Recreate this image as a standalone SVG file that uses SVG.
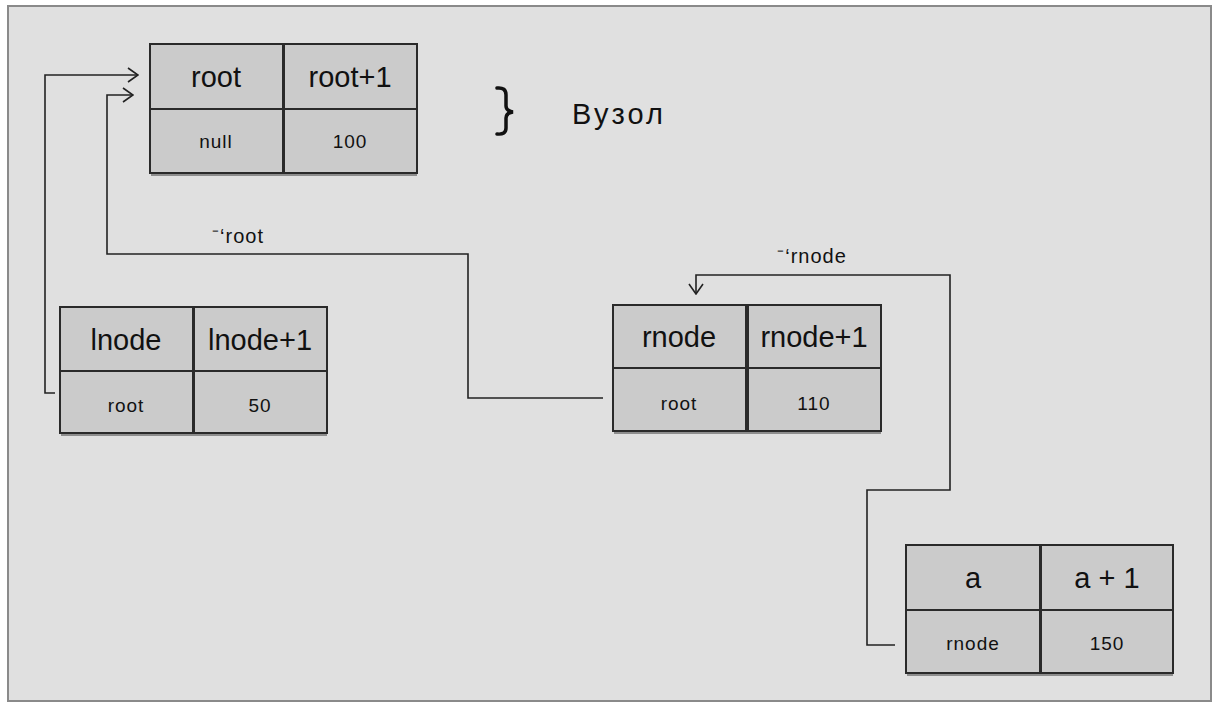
<svg xmlns="http://www.w3.org/2000/svg" width="1214" height="704" viewBox="0 0 1214 704">
<defs>
<marker id="arr" viewBox="0 0 12 16" refX="11" refY="8" markerWidth="12" markerHeight="16" markerUnits="userSpaceOnUse" orient="auto">
<path d="M1,1 L11,8 L1,15" fill="none" stroke="#222" stroke-width="1.6"/>
</marker>
</defs>
<style>
.cell{fill:#cbcbcb;stroke:#2a2a2a;stroke-width:2}
.shadow{fill:none;stroke:#555;stroke-width:2;opacity:0.6}
.hd{font-family:"Liberation Sans",sans-serif;font-size:29px;fill:#111;text-anchor:middle}
.val{font-family:"Liberation Sans",sans-serif;font-size:19px;fill:#111;text-anchor:middle;letter-spacing:1px}
.lbl{font-family:"Liberation Sans",sans-serif;font-size:20px;fill:#111;text-anchor:middle;letter-spacing:1px}
.conn{fill:none;stroke:#222;stroke-width:1.6}
</style>
<rect x="8" y="6" width="1203" height="695" fill="#e0e0e0" stroke="#8a8a8a" stroke-width="2"/>

<g id="connectors">
<path class="conn" d="M55,393 H45 V75 H138" marker-end="url(#arr)"/>
<path class="conn" d="M603,398 H468 V254 H107 V95 H133" marker-end="url(#arr)"/>
<path class="conn" d="M895,645 H867 V490 H950 V275 H696 V294" marker-end="url(#arr)"/>
<text class="lbl" x="238" y="243">⁻‘root</text>
<text class="lbl" x="812" y="263">⁻‘rnode</text>
</g>

<g id="node-root">
<rect class="cell" x="150" y="44" width="133" height="65"/>
<rect class="cell" x="150" y="109" width="133" height="64"/>
<rect class="cell" x="284" y="44" width="133" height="65"/>
<rect class="cell" x="284" y="109" width="133" height="64"/>
<path class="shadow" d="M151,175 H417"/>
<text class="hd" x="216" y="87">root</text>
<text class="hd" x="350" y="87">root+1</text>
<text class="val" x="216" y="148">null</text>
<text class="val" x="350" y="148">100</text>
</g>

<g id="label-vuzol">
<path d="M497,88 Q506,87 506,95 V106 Q506,111 513,112 Q506,113 506,118 V128 Q506,135 497,134" fill="none" stroke="#111" stroke-width="3.5" stroke-linecap="round"/>
<text x="572" y="124" font-family="Liberation Sans, sans-serif" font-size="29" letter-spacing="3" fill="#111">Вузол</text>
</g>

<g id="node-lnode">
<rect class="cell" x="60" y="307" width="133" height="64"/>
<rect class="cell" x="60" y="371" width="133" height="62"/>
<rect class="cell" x="194" y="307" width="133" height="64"/>
<rect class="cell" x="194" y="371" width="133" height="62"/>
<path class="shadow" d="M61,435 H327"/>
<text class="hd" x="126" y="350">lnode</text>
<text class="hd" x="260" y="350">lnode+1</text>
<text class="val" x="126" y="412">root</text>
<text class="val" x="260" y="412">50</text>
</g>

<g id="node-rnode">
<rect class="cell" x="613" y="305" width="133" height="63"/>
<rect class="cell" x="613" y="368" width="133" height="63"/>
<rect class="cell" x="748" y="305" width="133" height="63"/>
<rect class="cell" x="748" y="368" width="133" height="63"/>
<path class="shadow" d="M614,433 H881"/>
<text class="hd" x="679" y="347">rnode</text>
<text class="hd" x="814" y="347">rnode+1</text>
<text class="val" x="679" y="410">root</text>
<text class="val" x="814" y="410">110</text>
</g>

<g id="node-a">
<rect class="cell" x="906" y="545" width="134" height="65"/>
<rect class="cell" x="906" y="610" width="134" height="63"/>
<rect class="cell" x="1041" y="545" width="132" height="65"/>
<rect class="cell" x="1041" y="610" width="132" height="63"/>
<path class="shadow" d="M907,675 H1173"/>
<text class="hd" x="973" y="588">a</text>
<text class="hd" x="1107" y="588">a + 1</text>
<text class="val" x="973" y="650">rnode</text>
<text class="val" x="1107" y="650">150</text>
</g>
</svg>
